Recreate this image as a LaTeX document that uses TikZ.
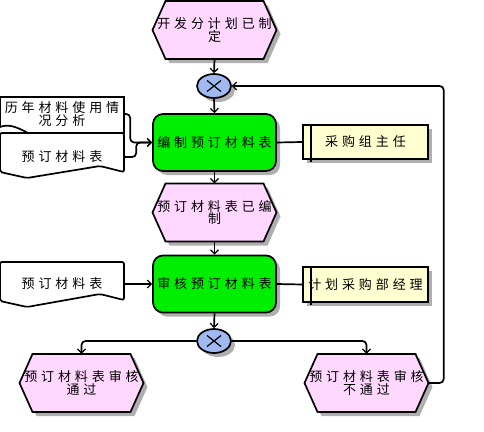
\documentclass[tikz,border=0pt]{standalone}
\usepackage{fontspec}
\newfontfamily\cjk[LetterSpace=30]{Noto Sans CJK SC}
\usetikzlibrary{arrows.meta,shadows,shapes.geometric,calc}
\definecolor{evfill}{RGB}{255,215,255}
\definecolor{fgreen}{RGB}{0,238,0}
\definecolor{xorblue}{RGB}{160,185,240}
\definecolor{roley}{RGB}{255,255,210}
\definecolor{shadowc}{RGB}{175,175,175}
\tikzset{
  con/.style={line width=1.7pt, rounded corners=4pt, -{Straight Barb[length=4pt,width=8pt,line width=1.2pt]}},
  plain/.style={line width=1.7pt},
  txt/.style={font=\cjk\fontsize{13}{12.5}\selectfont, align=center, inner sep=0pt},
  myshadow/.style={drop shadow={shadow xshift=4pt, shadow yshift=-4pt, fill=shadowc, opacity=1}},
  func/.style={txt, draw, line width=1.7pt, fill=fgreen, rounded corners=10pt, minimum width=123pt, minimum height=57pt, myshadow},
  role/.style={txt, draw, line width=1.7pt, fill=roley, minimum width=125pt, minimum height=34pt, myshadow},
  xor/.style={ellipse, draw, fill=xorblue, line width=1.7pt, minimum width=34pt, minimum height=24pt, inner sep=0pt, myshadow},
  evshape/.style={draw, fill=evfill, line width=1.7pt, line join=miter},
  evbox/.style={txt, minimum width=124pt, minimum height=58pt},
  docshape/.style={draw, fill=white, line width=1.7pt},
  docbox/.style={txt, minimum width=124pt, minimum height=30pt},
}
\newcommand{\evt}[4]{%
  \fill[shadowc] ({#2-62+4},{#3+4}) -- ({#2-49+4},{#3-29+4}) -- ({#2+49+4},{#3-29+4}) -- ({#2+62+4},{#3+4}) -- ({#2+49+4},{#3+29+4}) -- ({#2-49+4},{#3+29+4}) -- cycle;
  \filldraw[evshape] ({#2-62},{#3}) -- ({#2-49},{#3-29}) -- ({#2+49},{#3-29}) -- ({#2+62},{#3}) -- ({#2+49},{#3+29}) -- ({#2-49},{#3+29}) -- cycle;
  \node[evbox] (#1) at (#2,#3) {#4};}
\newcommand{\xorx}[1]{%
  \draw[line width=1.2pt] ($(#1)+(-7,-5.5)$) -- ($(#1)+(7,5.5)$);
  \draw[line width=1.2pt] ($(#1)+(-7,5.5)$) -- ($(#1)+(7,-5.5)$);}
\begin{document}
\begin{tikzpicture}[x=1pt,y=-1pt]
\useasboundingbox (0,0) rectangle (484,431);
% events
\evt{e1}{214.5}{30}{开发分计划已制\\定}
\evt{e2}{214.5}{212.5}{预订材料表已编\\制}
\evt{e3}{81.5}{383}{预订材料表审核\\通过}
\evt{e4}{366.5}{383}{预订材料表审核\\不通过}
% xor
\node[xor] (x1) at (214,86) {};
\xorx{x1}
\node[xor] (x2) at (214,341) {};
\xorx{x2}
% functions
\node[func] (f1) at (214.5,142.5) {编制预订材料表};
\node[func] (f2) at (214.5,284) {审核预订材料表};
% roles
\node[role] (r1) at (365.5,142) {采购组主任};
\draw[plain] ([xshift=9pt]r1.north west) -- ([xshift=9pt,yshift=-2pt]r1.south west);
\node[role, minimum height=35pt] (r2) at (365.5,284.5) {计划采购部经理};
\draw[plain] ([xshift=9pt]r2.north west) -- ([xshift=9pt,yshift=-2pt]r2.south west);
% documents
\draw[docshape] (0,127) -- (0,97) -- (124,97) -- (124,133) -- (28,133) .. controls (15,126) and (8,124) .. (0,127);
\node[docbox] (d1) at (62,114) {历年材料使用情\\况分析};
\draw[docshape, rounded corners=2pt] (0,172) -- (0,133) -- (124,133) -- (124,172) -- (100,166) -- (27,178) -- cycle;
\node[docbox] (d2) at (62,157) {预订材料表};
\draw[docshape, rounded corners=2pt] (0,301) -- (0,262) -- (124,262) -- (124,300) -- (100,294) -- (27,307) -- cycle;
\node[docbox] (d3) at (62,284) {预订材料表};
% connectors
\draw[con] (e1.south) -- (x1.north);
\draw[con] (x1.south) -- (f1.north);
\draw[con] (f1.south) -- (e2.north);
\draw[con] (e2.south) -- (f2.north);
\draw[con] (f2.south) -- (x2.north);
\draw[con] (x2.west) -| (e3.north);
\draw[con] (x2.east) -| (e4.north);
\draw[con] (e4.east) -- ++(15,0) |- (x1.east);
\draw[con] (d1.east) -- ++(6,0) |- (f1.west);
\draw[con] (d2.east) -- ++(12,0) |- (f1.west);
\draw[con] (d3.east) -- (f2.west);
\draw[plain] (f1.east) -- (r1.west);
\draw[plain] (f2.east) -- (r2.west);
\end{tikzpicture}
\end{document}
